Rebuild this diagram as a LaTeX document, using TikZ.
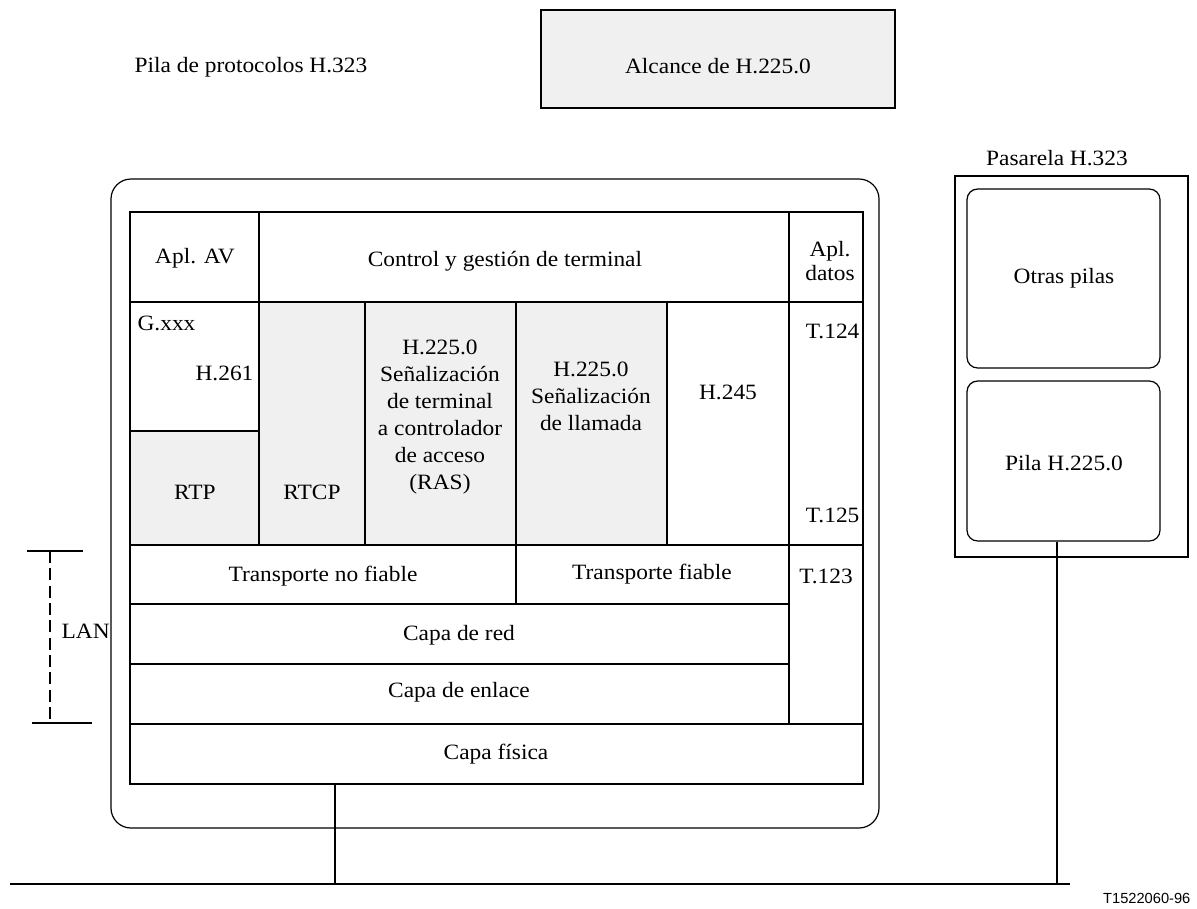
\documentclass[tikz,border=0pt]{standalone}
\usepackage{fontspec}
\setmainfont{Liberation Serif}[FakeStretch=1.07]
\newfontfamily\idsans{Liberation Sans}
\usetikzlibrary{fit}
\definecolor{shade}{HTML}{F0F0F0}
\begin{document}
\begin{tikzpicture}[x=0.75pt,y=-0.75pt,
  font=\fontsize{16.4}{20.3}\selectfont,
  every path/.style={line width=0.9pt},
  cell/.style={draw, line width=0.9pt, inner sep=0pt},
  greycell/.style={cell, fill=shade},
  txt/.style={inner sep=0pt, align=center},
  stackbox/.style={draw, line width=0.9pt, inner sep=0pt, rounded corners=15pt},
  gwbox/.style={draw, line width=0.9pt, inner sep=0pt, rounded corners=8pt}]
\useasboundingbox (0,0) rectangle (1197,908);

% headings
\node[txt] (title) at (251,67) {Pila de protocolos H.323};
\node[greycell, fit={(541,10)(895,108)}] (scope) {};
\node[txt] (scopeT) at (718,66) {Alcance de H.225.0};

% main stack outline
\node[stackbox, fit={(111,179)(879,828)}] (stack) {};

% row 1
\node[cell, fit={(130,212)(259,302)}] (apl) {};
\node[txt] (aplT) at (195,258) {Apl. AV};
\node[cell, fit={(259,212)(789,302)}] (ctrl) {};
\node[txt] (ctrlT) at (505,261) {Control y gestión de terminal};
\node[cell, fit={(789,212)(863,302)}] (datos) {};
\node[txt, font=\fontsize{16.4}{17.5}\selectfont] (datosT) at (830,261) {Apl.\\datos};

% row 2
\node[cell, fit={(130,302)(259,431)}] (gxx) {};
\node[txt, anchor=west] (gxxT) at (137,323) {G.xxx};
\node[txt, anchor=east] (h261T) at (254,373) {H.261};
\node[greycell, fit={(130,431)(259,545)}] (rtp) {};
\node[txt] (rtpT) at (195,492) {RTP};
\node[greycell, fit={(259,302)(365,545)}] (rtcp) {};
\node[txt] (rtcpT) at (312,492) {RTCP};
\node[greycell, fit={(365,302)(516,545)}] (ras) {};
\node[txt] (rasT) at (440,417) {H.225.0\\Señalización\\de terminal\\a controlador\\de acceso\\(RAS)};
\node[greycell, fit={(516,302)(667,545)}] (llam) {};
\node[txt] (llamT) at (591,396) {H.225.0\\Señalización\\de llamada};
\node[cell, fit={(667,302)(789,545)}] (h245) {};
\node[txt] (h245T) at (728,392) {H.245};
\node[cell, fit={(789,302)(863,545)}] (t124) {};
\node[txt, anchor=east] (t124T) at (860,331) {T.124};
\node[txt, anchor=east] (t125T) at (860,515) {T.125};

% lower rows
\node[cell, fit={(130,545)(516,604)}] (tnf) {};
\node[txt] (tnfT) at (323,576) {Transporte no fiable};
\node[cell, fit={(516,545)(789,604)}] (tf) {};
\node[txt] (tfT) at (652,574) {Transporte fiable};
\node[cell, fit={(789,545)(863,724)}] (t123) {};
\node[txt] (t123T) at (826,576) {T.123};
\node[cell, fit={(130,604)(789,664)}] (red) {};
\node[txt] (redT) at (459,635) {Capa de red};
\node[cell, fit={(130,664)(789,724)}] (enl) {};
\node[txt] (enlT) at (459,692) {Capa de enlace};
\node[cell, fit={(130,724)(863,784)}] (fis) {};
\node[txt] (fisT) at (496,754) {Capa física};

% LAN marker
\coordinate (lanTop) at (50,551);
\coordinate (lanBot) at (50,723);
\coordinate (tickTL) at (27,551);
\coordinate (tickTR) at (83,551);
\coordinate (tickBL) at (32,723);
\coordinate (tickBR) at (92,723);
\draw (tickTL) -- (tickTR);
\draw (tickBL) -- (tickBR);
\draw[dash pattern=on 9pt off 4pt, line width=1.1pt] (lanTop) -- (lanBot);
\node[txt, anchor=west] (lan) at (61,631) {LAN};

% gateway
\node[txt] (gwT) at (1057,158) {Pasarela H.323};
\node[cell, fit={(955,176)(1188,557)}] (gw) {};
\node[gwbox, fit={(967,189)(1160,368)}] (otras) {};
\node[txt] (otrasT) at (1064,278) {Otras pilas};
\node[gwbox, fit={(967,381)(1160,541)}] (pila) {};
\node[txt] (pilaT) at (1064,463) {Pila H.225.0};

% network line
\coordinate (netL) at (10,884);
\coordinate (netR) at (1070,884);
\coordinate (tapA) at (335,884);
\coordinate (tapB) at (1057,884);
\draw (netL) -- (netR);
\draw (fis.south -| tapA) -- (tapA);
\draw (pila.south -| tapB) -- (tapB);

\node[anchor=east, inner sep=0pt, font=\idsans\fontsize{11}{13}\selectfont] (fig) at (1191,898) {T1522060-96};
\end{tikzpicture}
\end{document}
